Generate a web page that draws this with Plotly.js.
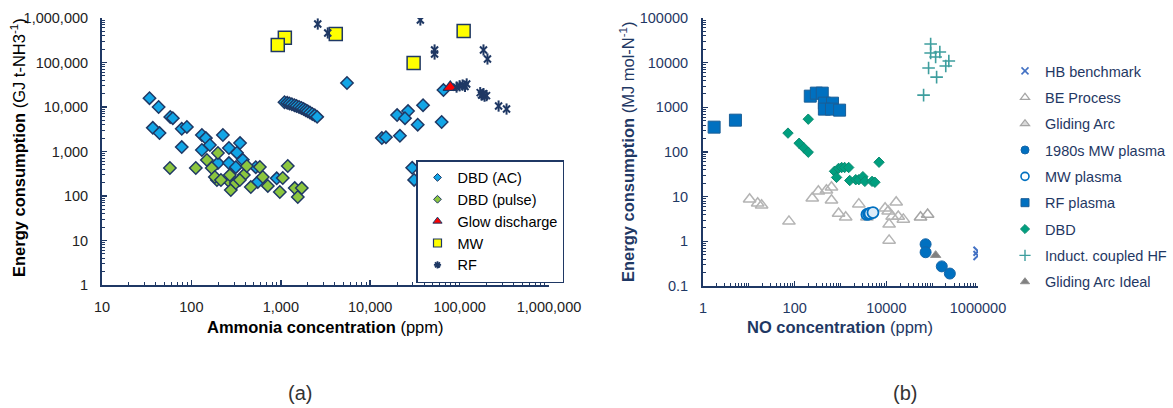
<!DOCTYPE html>
<html>
<head>
<meta charset="utf-8">
<script src="https://cdn.plot.ly/plotly-3.0.1.min.js"></script>
<style>html,body{margin:0;padding:0;background:#fff;}#chart{width:1173px;height:408px;}</style>
</head>
<body>
<div id="chart"></div>
<script>
// ---------- Panel (a): ammonia ----------
const dbdAcX = [34, 43, 58, 62, 78, 89, 37, 44, 78, 131, 145, 161, 225, 131, 263, 350, 323, 376, 198, 263, 314, 525, 900, 553,
  1100, 1180, 1250, 1330, 1420, 1500, 1600, 1700, 1800, 1900, 2000, 2120, 2250, 2400, 2550,
  5500, 66000, 39000, 26500, 20000, 24500, 34000, 63000, 21500, 13500, 15000, 29500, 31000];
const dbdAcY = [15800, 10000, 5960, 5600, 3240, 3560, 3400, 2600, 1260, 2350, 2000, 1400, 2350, 1080, 1200, 1550, 940, 650, 550, 550, 445, 445, 250, 206,
  12800, 12400, 12000, 11500, 11000, 10500, 10000, 9500, 9000, 8500, 8000, 7500, 7000, 6500, 6000,
  34600, 24000, 11000, 8100, 6600, 5600, 4000, 4600, 2250, 2000, 2100, 430, 230];
const dbdPulseX = [57.5, 112, 198, 149, 169, 193, 183, 269, 276, 314, 386, 417, 462, 583, 629, 716, 975, 1052, 1197, 1432, 1717, 1549, 214, 348, 269];
const dbdPulseY = [426, 426, 925, 644, 426, 229, 267, 206, 136, 196, 296, 472, 159, 449, 267, 168, 123, 254, 472, 151, 151, 95, 229, 229, 296];
const glowX = [78700];
const glowY = [27700];
const mwX = [1110, 925, 4120, 111000, 30600];
const mwY = [360000, 247000, 437000, 510000, 97500];
const rfX = [2590, 3350, 36400, 52500, 52500, 185000, 205000, 108000, 92500, 100000, 115000, 120000, 170000, 176000, 180000, 185000, 190000, 200000, 273000, 335000];
const rfY = [732000, 461000, 902000, 191000, 155000, 191000, 120000, 31200, 28000, 30000, 29000, 33000, 21000, 18600, 19000, 20000, 17500, 18000, 10500, 9000];

const aXTickVals = [10, 100, 1000, 10000, 100000, 1000000];
const aXTickText = ['10', '100', '1,000', '10,000', '100,000', '1,000,000'];
const aYTickVals = [1, 10, 100, 1000, 10000, 100000, 1000000];
const aYTickText = ['1', '10', '100', '1,000', '10,000', '100,000', '1,000,000'];

// ---------- Panel (b): NO ----------
const hbX = [1000000, 1000000];
const hbY = [0.6, 0.48];
const beX = [55700, 79600];
const beY = [3.45, 4.0];
const gaX = [10.4, 15.6, 19, 75, 242, 329, 493, 636, 636, 908, 1297, 2510, 3770, 9400, 10960, 11500, 16400, 13400, 18200, 23500, 11500];
const gaY = [8.75, 7.1, 6.4, 2.8, 9.2, 13.2, 13.9, 16.3, 8.3, 4.2, 3.45, 6.8, 3.45, 5.5, 4.7, 2.4, 7.5, 3.6, 3.6, 3.1, 1.05];
const mw80X = [71900, 71900, 162000, 243000];
const mw80Y = [0.86, 0.57, 0.275, 0.19];
const mwpX = [3770, 4100, 4390, 5110];
const mwpY = [4.0, 4.1, 4.2, 4.4];
const rfpX = [1.75, 5.1, 219, 297, 400, 445, 670, 445, 636, 955];
const rfpY = [360, 516, 1780, 2080, 2080, 1240, 1240, 912, 912, 865];
const dbdX = [71.5, 198, 125, 161, 198, 740, 910, 1060, 1230, 1510, 820, 1590, 2150, 2510, 3080, 3400, 4880, 5630, 6930];
const dbdY = [265, 543, 157, 122, 99, 37, 43, 45, 45, 45, 27, 23, 24, 24, 28, 22, 22, 21, 59];
const icpX = [92700, 92700, 119000, 147000, 231000, 198000, 83500, 125000, 65000];
const icpY = [26100, 16400, 13400, 17300, 10900, 8400, 7570, 4750, 1880];
const gaiX = [119000];
const gaiY = [0.49];

const bXTickVals = [1, 100, 10000, 1000000];
const bXTickText = ['1', '100', '10000', '1000000'];
const bYTickVals = [0.1, 1, 10, 100, 1000, 10000, 100000];
const bYTickText = ['0.1', '1', '10', '100', '1000', '10000', '100000'];

const NAVY = '#1F3864';
const FONT = 'Liberation Sans, Arial, sans-serif';

function pts(x, y, xa, ya, marker) {
  return {type: 'scatter', mode: 'markers', x: x, y: y, xaxis: xa, yaxis: ya, marker: marker, showlegend: false, hoverinfo: 'x+y'};
}
function leg(name, legendId, marker, group) {
  return {type: 'scatter', mode: 'markers', x: [null], y: [null], name: name, legend: legendId,
    legendgroup: group || name, marker: marker, showlegend: true,
    xaxis: legendId === 'legend' ? 'x' : 'x2', yaxis: legendId === 'legend' ? 'y' : 'y2'};
}

const traces = [
  // panel a
  pts(dbdAcX, dbdAcY, 'x', 'y', {symbol: 'diamond', size: 9.5, color: '#12A5E6', line: {color: NAVY, width: 1.5}}),
  pts(dbdPulseX, dbdPulseY, 'x', 'y', {symbol: 'diamond', size: 9.5, color: '#8CC63F', line: {color: NAVY, width: 1.5}}),
  pts(glowX, glowY, 'x', 'y', {symbol: 'triangle-up', size: 12.5, color: '#FF0000', line: {color: NAVY, width: 1.2}}),
  pts(mwX, mwY, 'x', 'y', {symbol: 'square', size: 13, color: '#FFFF00', line: {color: NAVY, width: 1.5}}),
  pts(rfX, rfY, 'x', 'y', {symbol: 'x-thin-open', size: 7, color: NAVY, line: {color: NAVY, width: 2}}),
  pts(rfX, rfY, 'x', 'y', {symbol: 'line-ns-open', size: 8, color: NAVY, line: {color: NAVY, width: 2}}),
  leg('DBD (AC)', 'legend', {symbol: 'diamond', size: 6, color: '#12A5E6', line: {color: NAVY, width: 1}}),
  leg('DBD (pulse)', 'legend', {symbol: 'diamond', size: 6, color: '#8CC63F', line: {color: NAVY, width: 1}}),
  leg('Glow discharge', 'legend', {symbol: 'triangle-up', size: 8, color: '#FF0000', line: {color: NAVY, width: 1}}),
  leg('MW', 'legend', {symbol: 'square', size: 8, color: '#FFFF00', line: {color: NAVY, width: 1.2}}),
  leg('RF', 'legend', {symbol: 'asterisk-open', size: 6, color: NAVY, line: {color: NAVY, width: 1.8}}),
  // panel b
  pts(hbX, hbY, 'x2', 'y2', {symbol: 'x-thin-open', size: 9, color: '#4472C4', line: {color: '#4472C4', width: 2}}),
  pts(beX, beY, 'x2', 'y2', {symbol: 'triangle-up-open', size: 11, color: '#A5A5A5', line: {color: '#A5A5A5', width: 1.5}}),
  pts(gaX, gaY, 'x2', 'y2', {symbol: 'triangle-up-open', size: 11, color: '#B4B4B4', line: {color: '#B4B4B4', width: 1.5}}),
  pts(mw80X, mw80Y, 'x2', 'y2', {symbol: 'circle', size: 11, color: '#0070C0', line: {color: '#1565A8', width: 1}}),
  pts(mwpX, mwpY, 'x2', 'y2', {symbol: 'circle', size: 11, color: '#DCEBF8', line: {color: '#0070C0', width: 1.8}}),
  pts(rfpX, rfpY, 'x2', 'y2', {symbol: 'square', size: 12, color: '#0070C0', line: {color: '#1B5E96', width: 1}}),
  pts(dbdX, dbdY, 'x2', 'y2', {symbol: 'diamond', size: 8, color: '#009F7F', line: {color: '#0B8A70', width: 1}}),
  pts(icpX, icpY, 'x2', 'y2', {symbol: 'cross-thin-open', size: 9, color: '#3E9E9E', line: {color: '#3E9E9E', width: 1.6}}),
  pts(gaiX, gaiY, 'x2', 'y2', {symbol: 'triangle-up', size: 9, color: '#808080', line: {color: '#909090', width: 1}}),
  leg('HB benchmark', 'legend2', {symbol: 'x-thin-open', size: 7, color: '#4472C4', line: {color: '#4472C4', width: 1.6}}),
  leg('BE Process', 'legend2', {symbol: 'triangle-up-open', size: 8, color: '#A5A5A5', line: {color: '#A5A5A5', width: 1.2}}),
  leg('Gliding Arc', 'legend2', {symbol: 'triangle-up', size: 8, color: '#D9D9D9', line: {color: '#A5A5A5', width: 1.2}}),
  leg('1980s MW plasma', 'legend2', {symbol: 'circle', size: 8, color: '#0070C0', line: {color: '#1565A8', width: 1}}),
  leg('MW plasma', 'legend2', {symbol: 'circle', size: 8, color: '#FFFFFF', line: {color: '#0070C0', width: 1.6}}),
  leg('RF plasma', 'legend2', {symbol: 'square', size: 8, color: '#0070C0', line: {color: '#1B5E96', width: 1}}),
  leg('DBD', 'legend2', {symbol: 'diamond', size: 7, color: '#009F7F', line: {color: '#0B8A70', width: 1}}),
  leg('Induct. coupled HF', 'legend2', {symbol: 'cross-thin-open', size: 8, color: '#3E9E9E', line: {color: '#3E9E9E', width: 1.4}}),
  leg('Gliding Arc Ideal', 'legend2', {symbol: 'triangle-up', size: 8, color: '#808080', line: {color: '#909090', width: 1}})
];

function axis(opts) {
  return Object.assign({
    type: 'log', showline: true, linecolor: NAVY, linewidth: 2,
    ticks: 'inside', ticklen: 5, tickwidth: 1.5, tickcolor: NAVY,
    tickmode: 'array', showgrid: false, zeroline: false,
    minor: {ticks: 'inside', ticklen: 3, tickwidth: 1, tickcolor: NAVY, dtick: 'D1', showgrid: false},
    fixedrange: true
  }, opts);
}

function note(text, px, py, size, color, angle) {
  return {text: text, xref: 'paper', yref: 'paper', x: px/1173, y: 1 - py/408, xanchor: 'center', yanchor: 'middle',
    showarrow: false, textangle: angle || 0, font: {family: FONT, size: size, color: color}};
}

const layout = {
  width: 1173, height: 408,
  margin: {l: 0, r: 0, t: 0, b: 0},
  paper_bgcolor: '#FFFFFF', plot_bgcolor: 'rgba(0,0,0,0)',
  font: {family: FONT, size: 14, color: '#000'},
  xaxis: axis({domain: [102/1173, 549/1173], range: [1, 6], anchor: 'y', tickvals: aXTickVals, ticktext: aXTickText,
    tickfont: {family: FONT, size: 14.5, color: '#222'}, ticklabelstandoff: 8}),
  yaxis: axis({domain: [1 - 285/408, 1 - 18/408], range: [0, 6], anchor: 'x', tickvals: aYTickVals, ticktext: aYTickText,
    tickfont: {family: FONT, size: 14.5, color: '#222'}, ticklabelstandoff: 9}),
  xaxis2: axis({domain: [703/1173, 978/1173], range: [0, 6], anchor: 'y2', tickvals: bXTickVals, ticktext: bXTickText,
    tickfont: {family: FONT, size: 14.5, color: NAVY}, ticklabelstandoff: 8}),
  yaxis2: axis({domain: [1 - 286/408, 1 - 18/408], range: [-1, 5], anchor: 'x2', tickvals: bYTickVals, ticktext: bYTickText,
    tickfont: {family: FONT, size: 14.5, color: NAVY}, ticklabelstandoff: 10}),
  legend: {x: 416/1173, y: 1 - 160/408, xanchor: 'left', yanchor: 'top', bgcolor: '#FFFFFF',
    bordercolor: NAVY, borderwidth: 1.5, font: {family: FONT, size: 14.5, color: '#000'}, tracegroupgap: 0},
  legend2: {x: 1005/1173, y: 1 - 55/408, xanchor: 'left', yanchor: 'top', bgcolor: 'rgba(0,0,0,0)',
    borderwidth: 0, font: {family: FONT, size: 14.5, color: NAVY}, tracegroupgap: 4.5},
  annotations: [
    note('<b>Energy consumption</b> (GJ t-NH3<sup>-1</sup>)', 18, 148, 16.5, '#000', -90),
    note('<b>Ammonia concentration</b> (ppm)', 325, 327, 16.5, '#000'),
    note('<b>Energy consumption</b> (MJ mol-N<sup>-1</sup>)', 627, 152, 16.5, NAVY, -90),
    note('<b>NO concentration</b> (ppm)', 840, 327, 16.5, NAVY),
    note('(a)', 300, 393, 20, '#333'),
    note('(b)', 905, 393, 20, '#333')
  ]
};

Plotly.newPlot('chart', traces, layout, {staticPlot: true, displayModeBar: false});
</script>
</body>
</html>
